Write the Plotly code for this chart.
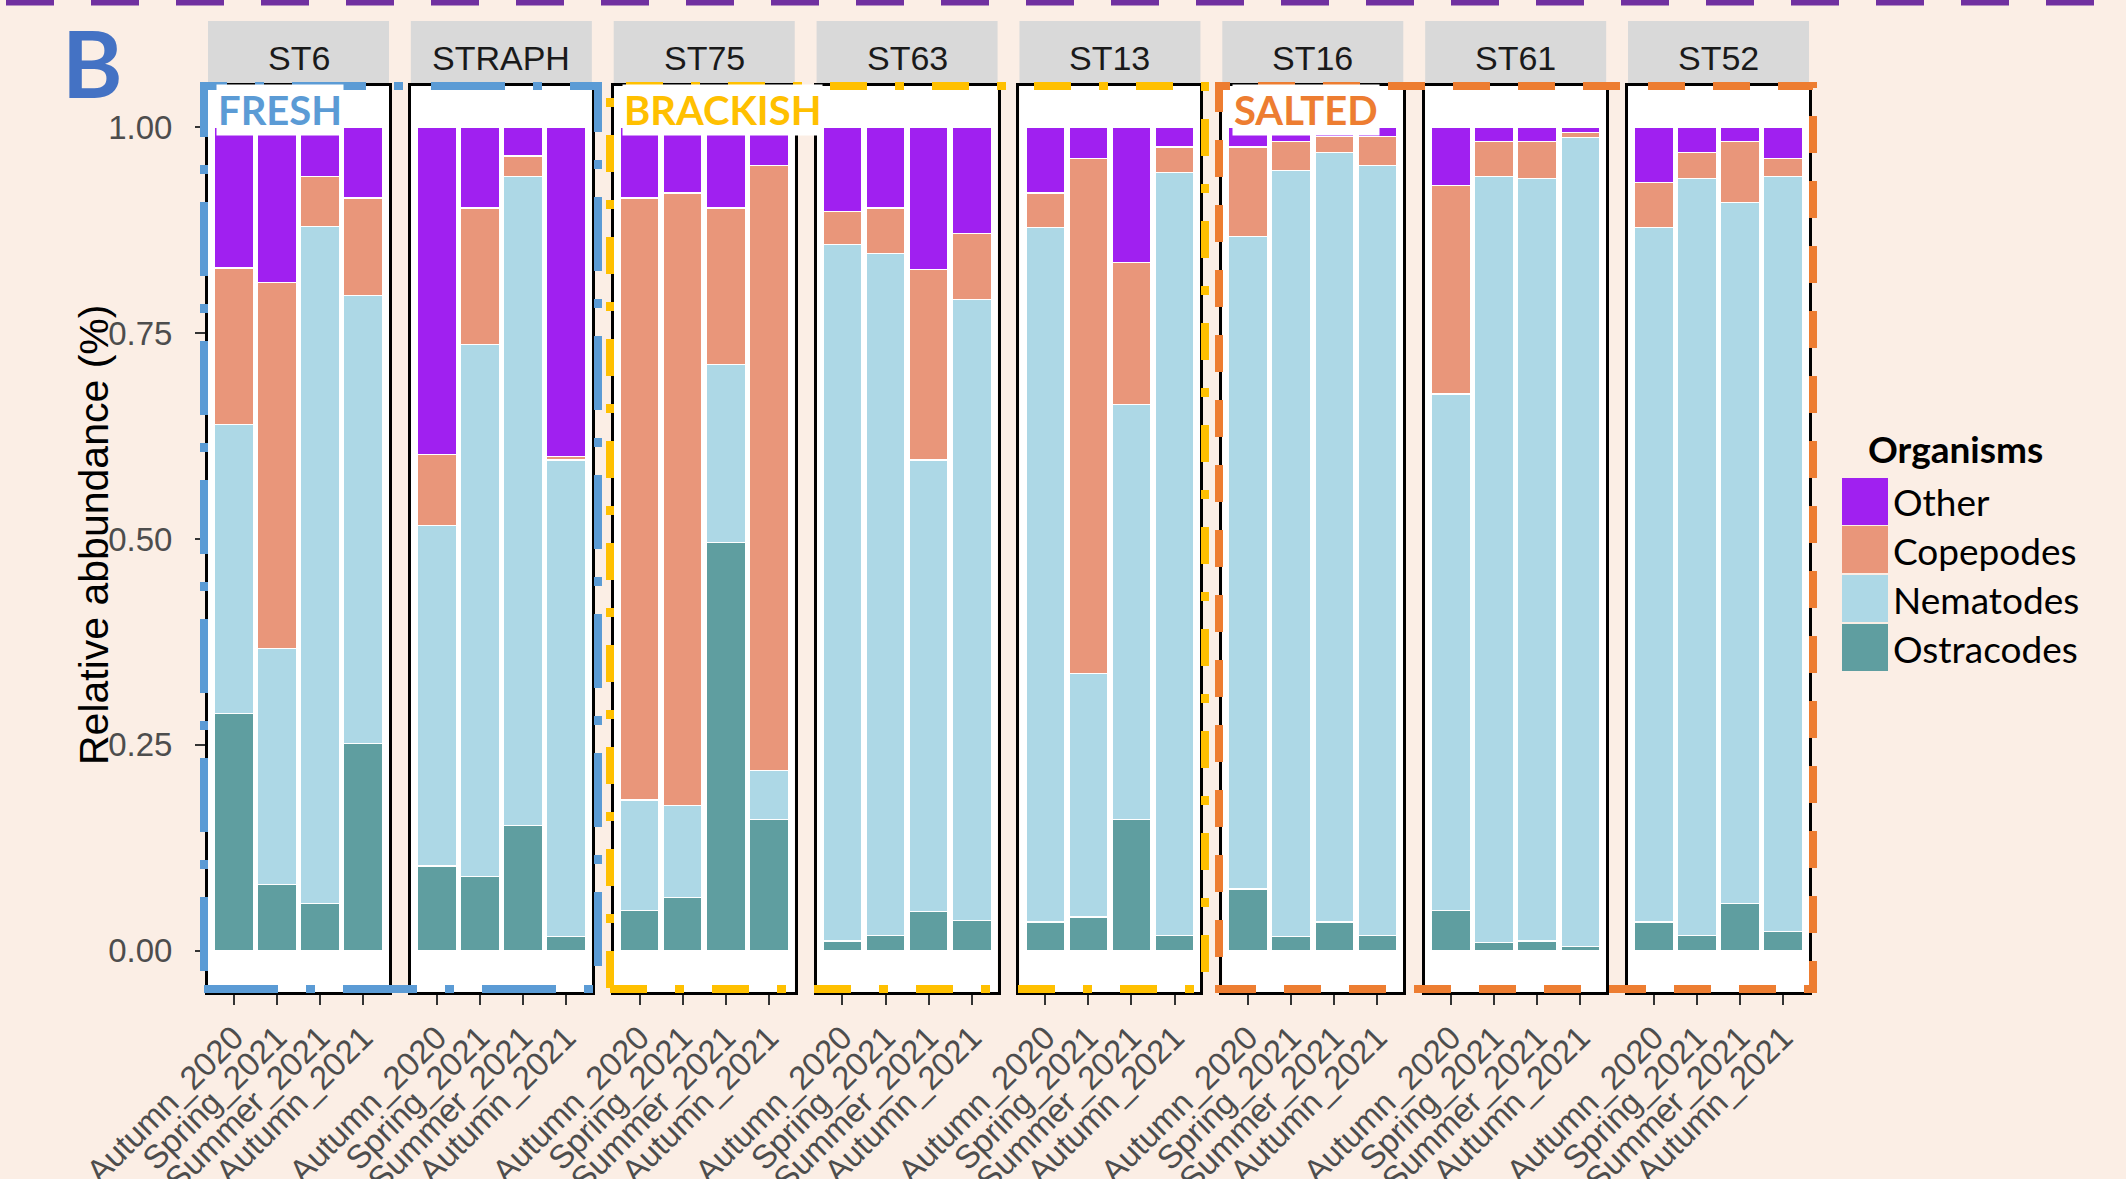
import plotly.graph_objects as go

# ---------------- data ----------------
stations = ["ST6", "STRAPH", "ST75", "ST63", "ST13", "ST16", "ST61", "ST52"]
seasons = ["Autumn_2020", "Spring_2021", "Summer_2021", "Autumn_2021"]

# relative abundance per station (rows) and season (columns)
ostracodes = [
    [0.288, 0.081, 0.057, 0.252],
    [0.103, 0.090, 0.152, 0.017],
    [0.049, 0.065, 0.496, 0.159],
    [0.012, 0.019, 0.048, 0.037],
    [0.035, 0.041, 0.159, 0.019],
    [0.075, 0.017, 0.035, 0.019],
    [0.049, 0.010, 0.012, 0.005],
    [0.035, 0.019, 0.057, 0.023],
]
nematodes = [
    [0.351, 0.286, 0.822, 0.544],
    [0.413, 0.646, 0.788, 0.579],
    [0.134, 0.111, 0.216, 0.060],
    [0.846, 0.828, 0.548, 0.754],
    [0.843, 0.296, 0.504, 0.926],
    [0.792, 0.930, 0.934, 0.934],
    [0.627, 0.930, 0.926, 0.982],
    [0.843, 0.919, 0.852, 0.917],
]
copepodes = [
    [0.190, 0.444, 0.061, 0.118],
    [0.087, 0.166, 0.025, 0.004],
    [0.731, 0.744, 0.190, 0.734],
    [0.040, 0.055, 0.231, 0.080],
    [0.042, 0.625, 0.173, 0.031],
    [0.109, 0.036, 0.020, 0.036],
    [0.253, 0.043, 0.045, 0.007],
    [0.055, 0.031, 0.074, 0.022],
]
other = [
    [0.171, 0.189, 0.060, 0.086],
    [0.397, 0.098, 0.035, 0.400],
    [0.086, 0.080, 0.098, 0.047],
    [0.102, 0.098, 0.173, 0.129],
    [0.080, 0.038, 0.164, 0.024],
    [0.024, 0.017, 0.011, 0.011],
    [0.071, 0.017, 0.017, 0.006],
    [0.067, 0.031, 0.017, 0.038],
]

series = [("Ostracodes", ostracodes), ("Nematodes", nematodes),
          ("Copepodes", copepodes), ("Other", other)]
colors = {"Other": "#A020F0", "Copepodes": "#E9967A",
          "Nematodes": "#ADD8E6", "Ostracodes": "#5F9EA0"}
legend_order = ["Other", "Copepodes", "Nematodes", "Ostracodes"]

y_tickvals = [0, 0.25, 0.5, 0.75, 1.0]
y_ticktext = ["0.00", "0.25", "0.50", "0.75", "1.00"]

groups = [("FRESH", "#5B9BD5"), ("BRACKISH", "#FFC000"), ("SALTED", "#ED7D31")]

# ---------------- layout helpers ----------------
W, H = 2126, 1179
def px(x):
    return x / W
def py(y):
    return 1 - y / H

P_LEFT0, P_STEP, P_W = 208.0, 202.86, 181.0
P_TOP, P_BOT = 86.0, 992.0
BG = "#FBEEE5"
TXT_FONT = "Liberation Sans, Arial, sans-serif"
PPT_FONT = "Lato, Carlito, Calibri, sans-serif"

fig = go.Figure()
layout = {}
annotations = []
shapes = []

for i, st in enumerate(stations):
    n = "" if i == 0 else str(i + 1)
    left = P_LEFT0 + P_STEP * i
    for name, vals in series:
        fig.add_trace(go.Bar(
            x=seasons, y=vals[i], name=name,
            marker=dict(color=colors[name], line=dict(color="white", width=1.2)),
            width=0.9, showlegend=False,
            xaxis="x" + n, yaxis="y" + n,
            hovertemplate=st + " %{x}<br>" + name + ": %{y:.3f}<extra></extra>",
        ))
    layout["xaxis" + n] = dict(
        domain=[px(left), px(left + P_W)], anchor="y" + n,
        type="category", range=[-0.6, 3.6], automargin=False,
        tickangle=-45, ticks="outside", ticklen=10, tickwidth=2, tickcolor="#333333",
        tickfont=dict(family=TXT_FONT, size=33, color="#4D4D4D"),
        showline=True, mirror=True, linecolor="black", linewidth=3,
        showgrid=False, zeroline=False, fixedrange=True,
    )
    yax = dict(
        domain=[py(P_BOT), py(P_TOP)], anchor="x" + n, range=[-0.05, 1.05],
        automargin=False,
        showline=True, mirror=True, linecolor="black", linewidth=3,
        showgrid=False, zeroline=False, fixedrange=True,
    )
    if i == 0:
        yax.update(tickvals=y_tickvals, ticktext=y_ticktext, ticks="outside",
                   ticklen=10, tickwidth=2, tickcolor="#333333",
                   ticklabelstandoff=16,
                   tickfont=dict(family=TXT_FONT, size=33, color="#4D4D4D"))
    else:
        yax.update(showticklabels=False, ticks="")
    layout["yaxis" + n] = yax

    # strip
    shapes.append(dict(type="rect", xref="paper", yref="paper",
                       x0=px(left), x1=px(left + P_W), y0=py(84), y1=py(21),
                       fillcolor="#D9D9D9", line=dict(width=0), layer="below"))
    annotations.append(dict(text=st, x=px(left + P_W / 2), y=py(58),
                            xref="paper", yref="paper", showarrow=False,
                            xanchor="center", yanchor="middle",
                            font=dict(family=TXT_FONT, size=34, color="#1A1A1A")))

# group dashed boxes
box_specs = [
    (204, 598, "#5B9BD5", "74px,28px,9px,28px"),
    (610, 1205, "#FFC000", "37px,28px,9px,28px"),
    (1219, 1813, "#ED7D31", "37px,28px"),
]
for x0, x1, c, d in box_specs:
    shapes.append(dict(type="rect", xref="paper", yref="paper",
                       x0=px(x0), x1=px(x1), y0=py(989), y1=py(86),
                       line=dict(color=c, width=8, dash=d), fillcolor="rgba(0,0,0,0)"))

# group labels
label_x = [216, 622, 1232]
for (g, c), lx in zip(groups, label_x):
    annotations.append(dict(text="<b>" + g + "</b>", x=px(lx), y=py(110),
                            xref="paper", yref="paper", xanchor="left", yanchor="middle",
                            showarrow=False, bgcolor="white", borderpad=1,
                            font=dict(family=PPT_FONT, size=40, color=c)))

# top purple dashed rule
shapes.append(dict(type="line", xref="paper", yref="paper",
                   x0=px(6), x1=px(W), y0=py(2.5), y1=py(2.5),
                   line=dict(color="#7030A0", width=6, dash="48px,37px")))

# panel letter
annotations.append(dict(text="<b>B</b>", x=px(92), y=py(63), xref="paper", yref="paper",
                        showarrow=False, xanchor="center", yanchor="middle",
                        font=dict(family=PPT_FONT, size=92, color="#4472C4")))

# y title
annotations.append(dict(text="Relative abbundance (%)", x=px(94), y=py(535),
                        xref="paper", yref="paper", showarrow=False, textangle=-90,
                        xanchor="center", yanchor="middle",
                        font=dict(family=TXT_FONT, size=41, color="black")))

# legend (drawn)
annotations.append(dict(text="<b>Organisms</b>", x=px(1866), y=py(448),
                        xref="paper", yref="paper", showarrow=False,
                        xanchor="left", yanchor="middle",
                        font=dict(family=PPT_FONT, size=37, color="black")))
sw_top = [478, 526, 575, 624]
for name, t in zip(legend_order, sw_top):
    shapes.append(dict(type="rect", xref="paper", yref="paper",
                       x0=px(1842), x1=px(1888), y0=py(t + 47), y1=py(t),
                       fillcolor=colors[name], line=dict(width=0)))
    annotations.append(dict(text=name, x=px(1891), y=py(t + 24),
                            xref="paper", yref="paper", showarrow=False,
                            xanchor="left", yanchor="middle",
                            font=dict(family=PPT_FONT, size=37, color="black")))

fig.update_layout(
    template="none",
    width=W, height=H, autosize=False,
    margin=dict(l=0, r=0, t=0, b=0, pad=0),
    paper_bgcolor=BG, plot_bgcolor="white",
    barmode="stack", bargap=0.1,
    shapes=shapes, annotations=annotations,
    **layout,
)

fig.write_html(
    "out.html",
    config={"displayModeBar": False},
    post_script="document.body.style.margin='0';document.body.style.background='" + BG + "';",
)
